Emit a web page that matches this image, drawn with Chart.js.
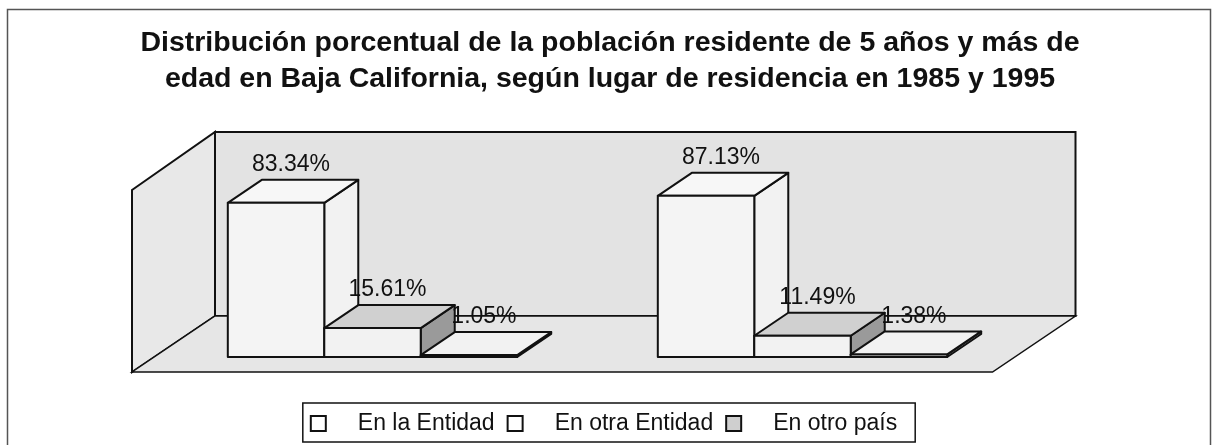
<!DOCTYPE html>
<html>
<head>
<meta charset="utf-8">
<script src="https://cdn.jsdelivr.net/npm/chart.js@4"></script>
<style>
  html, body { margin: 0; padding: 0; background: #fff; }
  canvas { display: block; }
</style>
</head>
<body>
<canvas id="chart" width="1212" height="445"></canvas>
<script>
const categories = ['1985', '1995'];
const seriesNames = ['En la Entidad', 'En otra Entidad', 'En otro país'];
const enLaEntidad = [83.34, 87.13];
const enOtraEntidad = [15.61, 11.49];
const enOtroPais = [1.05, 1.38];

const titleLines = [
  'Distribución porcentual de la población residente de 5 años y más de',
  'edad en Baja California, según lugar de residencia en 1985 y 1995'
];

const FONT = "'Liberation Sans', Arial, sans-serif";
Chart.defaults.font.family = FONT;
Chart.defaults.color = '#111';

// faces of the 3d bars
const frontColors = ['#f4f4f4', '#f2f2f2', '#f4f4f4'];
const topColors = ['#f7f7f7', '#d0d0d0', '#f2f2f2'];
const sideColors = ['#f2f2f2', '#9a9a9a', '#f2f2f2'];
const legendColors = ['#ffffff', '#ffffff', '#cfcfcf'];
const DX = 34, DY = -23;

function poly(ctx, pts, fill, width) {
  ctx.beginPath();
  ctx.moveTo(pts[0][0], pts[0][1]);
  for (let i = 1; i < pts.length; i++) ctx.lineTo(pts[i][0], pts[i][1]);
  ctx.closePath();
  if (fill) { ctx.fillStyle = fill; ctx.fill(); }
  ctx.lineWidth = width || 2;
  ctx.strokeStyle = '#111';
  ctx.stroke();
}

const walls = {
  id: 'walls',
  beforeDraw(chart) {
    const { ctx, chartArea: a, scales: { y } } = chart;
    const base = y.getPixelForValue(0);
    const top = y.getPixelForValue(100);
    ctx.save();
    ctx.fillStyle = '#fff';
    ctx.fillRect(0, 0, chart.width, chart.height);
    ctx.strokeStyle = '#555';
    ctx.lineWidth = 1.5;
    ctx.strokeRect(7.5, 9.5, 1203, 470);

    const fl = a.left - 25.5, bl = a.left + 57.5;
    const br = a.right + 58, fr = a.right - 25;
    const ff = base + 15, bf = base - 41, wt = top - 40, lt = top + 18;
    poly(ctx, [[fl, lt], [bl, wt], [bl, bf], [fl, ff]], '#e8e8e8');
    poly(ctx, [[bl, wt], [br, wt], [br, bf], [bl, bf]], '#e3e3e3');
    poly(ctx, [[fl, ff], [bl, bf], [br, bf], [fr, ff]], '#e6e6e6', 1.5);
    ctx.restore();
  }
};

const bars3d = {
  id: 'bars3d',
  afterDatasetsDraw(chart) {
    const ctx = chart.ctx;
    const n = chart.data.datasets.length;
    ctx.save();
    ctx.lineJoin = 'round';
    for (let i = 0; i < categories.length; i++) {
      for (let d = 0; d < n; d++) {
        const bar = chart.getDatasetMeta(d).data[i];
        const { x, y, base, width } = bar.getProps(['x', 'y', 'base', 'width'], true);
        const l = x - width / 2, r = x + width / 2;
        poly(ctx, [[r, y], [r + DX, y + DY], [r + DX, base + DY], [r, base]], sideColors[d]);
        poly(ctx, [[l, y], [r, y], [r + DX, y + DY], [l + DX, y + DY]], topColors[d]);
        poly(ctx, [[l, y], [r, y], [r, base], [l, base]], frontColors[d]);
      }
    }
    // value labels
    ctx.font = '23px ' + FONT;
    ctx.fillStyle = '#111';
    ctx.textAlign = 'center';
    ctx.textBaseline = 'middle';
    for (let d = 0; d < n; d++) {
      const ds = chart.data.datasets[d];
      chart.getDatasetMeta(d).data.forEach((bar, i) => {
        ctx.fillText(ds.data[i].toFixed(2) + '%', bar.x + 15, bar.y + DY - 15);
      });
    }
    ctx.restore();
  }
};

const legendBox = {
  id: 'legendBox',
  afterDraw(chart) {
    const ctx = chart.ctx;
    ctx.save();
    ctx.font = '23px ' + FONT;
    const widths = seriesNames.map(s => ctx.measureText(s).width);
    const box = 15, gapIn = 32, gapOut = 13;
    const content = widths.reduce((s, w) => s + box + gapIn + w, 0) + gapOut * (widths.length - 1);
    const boxW = content + 26;
    const left = 609 - boxW / 2, top = 403, h = 39;
    const cy = top + h / 2 + 1;
    ctx.lineWidth = 1.5;
    ctx.strokeStyle = '#111';
    ctx.strokeRect(left, top, boxW, h);
    let x = left + 8;
    ctx.textBaseline = 'middle';
    ctx.textAlign = 'left';
    seriesNames.forEach((name, k) => {
      ctx.fillStyle = legendColors[k];
      ctx.fillRect(x, cy - box / 2, box, box);
      ctx.lineWidth = 2;
      ctx.strokeRect(x, cy - box / 2, box, box);
      ctx.fillStyle = '#111';
      ctx.fillText(name, x + box + gapIn, cy);
      x += box + gapIn + widths[k] + gapOut;
    });
    ctx.restore();
  }
};

const seriesData = [enLaEntidad, enOtraEntidad, enOtroPais];

new Chart(document.getElementById('chart'), {
  type: 'bar',
  data: {
    labels: categories,
    datasets: seriesNames.map((name, d) => ({
      label: name,
      data: seriesData[d],
      backgroundColor: frontColors[d],
      borderColor: '#111',
      borderWidth: 2
    }))
  },
  options: {
    responsive: false,
    animation: false,
    devicePixelRatio: 1,
    categoryPercentage: 0.673,
    barPercentage: 1,
    layout: { padding: { left: 10, right: 2, top: 0, bottom: 88 } },
    scales: {
      x: { display: false },
      y: {
        min: 0,
        max: 100,
        ticks: { display: false },
        grid: { display: false },
        border: { display: false },
        afterFit(scale) { scale.width = 147.5; }
      },
      y2: {
        position: 'right',
        ticks: { display: false },
        grid: { display: false },
        border: { display: false },
        afterFit(scale) { scale.width = 192.5; }
      }
    },
    plugins: {
      legend: { display: false },
      tooltip: { enabled: false },
      title: {
        display: true,
        text: titleLines,
        color: '#111',
        font: { size: 28.5, weight: 'bold', lineHeight: 36 / 28.5 },
        padding: { top: 25, bottom: 75 }
      }
    }
  },
  plugins: [walls, bars3d, legendBox]
});
</script>
</body>
</html>
